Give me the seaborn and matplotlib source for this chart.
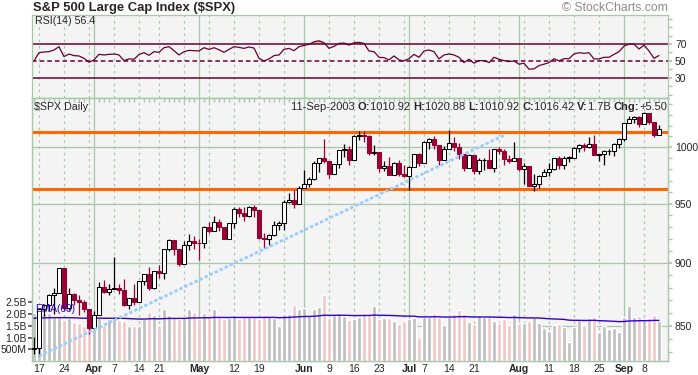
import numpy as np
import pandas as pd
import matplotlib
matplotlib.use("Agg")
import matplotlib.pyplot as plt
import seaborn as sns
from matplotlib.ticker import FixedLocator, FixedFormatter, NullFormatter
from matplotlib.transforms import blended_transform_factory

# trading days shown (Mar 14 is only half visible at the left edge)
holidays = ["2003-04-18", "2003-05-26", "2003-07-04", "2003-09-01"]
dates = pd.bdate_range("2003-03-14", "2003-09-11")
dates = dates[~dates.isin(pd.to_datetime(holidays))]

opens = [831.90,
         833.27, 862.79, 866.45, 874.02, 875.67, 895.79, 864.23, 874.74, 869.95, 868.52, 863.50,
         848.18, 858.48, 880.90, 876.45, 878.85, 879.93, 878.29, 865.99, 871.58, 868.30, 885.23,
         890.81, 879.91, 893.58, 892.01, 911.37, 919.02, 911.43, 898.81, 914.84, 917.84,
         916.92, 916.30, 930.08, 926.55, 934.39, 929.62, 920.27, 933.41, 945.11, 942.30, 939.28,
         946.67, 944.30, 920.77, 919.73, 923.42, 931.87, 933.22, 951.48, 953.22, 949.64,
         963.59, 967.00, 971.56, 986.24, 990.14, 987.76, 975.93, 984.84, 997.48, 998.51, 988.61,
         1010.74, 1011.66, 1010.09, 994.70, 995.69, 981.64, 983.45, 975.32, 985.82, 976.22,
         974.50, 982.32, 993.75, 985.70, 1004.42, 1007.84, 1002.21, 988.70, 998.14, 1003.86,
         1000.42, 994.09, 981.73, 993.32, 978.80, 988.11, 988.61, 981.60, 998.68, 996.52, 989.28, 987.49,
         990.31, 980.15, 982.82, 965.46, 967.08, 974.12, 977.59, 980.59, 990.35, 984.03, 990.51,
         990.67, 999.74, 1002.35, 1000.30, 1003.27, 993.06, 993.71, 996.73, 996.79, 1002.84,
         1008.01, 1021.99, 1026.27, 1027.97, 1021.39, 1031.64, 1023.17, 1010.92]
highs = [841.39,
         862.79, 866.94, 874.99, 879.60, 895.90, 895.79, 879.87, 875.80, 874.15, 869.88, 863.50,
         861.28, 884.57, 885.89, 882.73, 904.89, 883.11, 887.35, 871.78, 883.34, 885.26, 891.27,
         896.77, 893.83, 898.01, 911.74, 919.74, 919.02, 911.43, 918.15, 924.24, 922.01,
         919.68, 930.56, 933.88, 939.61, 937.22, 929.62, 933.77, 946.84, 947.51, 947.29, 948.23,
         948.65, 944.30, 925.34, 923.85, 935.30, 935.20, 952.76, 959.39, 962.08, 965.38,
         979.11, 973.02, 987.85, 990.14, 1007.69, 987.76, 984.84, 997.48, 1002.74, 1000.92,
         1010.86, 1015.33, 1015.12, 1011.22, 1002.09, 995.69, 987.84, 991.64, 986.53, 988.88,
         983.61, 983.26, 993.78, 995.00, 1005.56, 1008.92, 1010.43, 1002.21, 1000.86, 1015.41,
         1009.61, 1003.47, 994.09, 994.25, 993.32, 990.29, 989.86, 998.89, 998.71, 1000.68, 998.64, 992.62,
         1004.59, 990.31, 985.75, 982.82, 975.74, 974.89, 980.57, 985.46, 990.41, 992.50, 991.91,
         992.39, 1000.35, 1003.30, 1003.54, 1009.53, 1011.01, 993.71, 997.93, 998.05, 1004.12,
         1008.85, 1022.59, 1029.34, 1029.17, 1029.21, 1032.41, 1031.64, 1023.17, 1020.88]
lows = [828.34,
        827.17, 857.36, 861.21, 859.01, 875.67, 862.02, 862.59, 866.47, 858.09, 860.83, 843.68,
        847.85, 858.48, 876.12, 874.23, 878.85, 874.68, 865.72, 862.76, 865.92, 868.30, 881.85,
        877.93, 879.20, 888.17, 886.70, 909.89, 906.69, 897.52, 898.81, 911.10, 911.70,
        902.83, 912.35, 924.55, 926.38, 926.41, 919.72, 920.27, 929.30, 938.91, 935.24, 938.79,
        938.60, 920.23, 912.05, 914.91, 922.54, 927.42, 927.33, 950.12, 946.23, 949.64,
        963.59, 964.47, 970.72, 978.13, 986.01, 972.59, 975.93, 981.61, 991.27, 984.27,
        988.61, 1007.04, 1004.61, 993.08, 993.36, 977.40, 979.08, 974.86, 975.32, 974.29,
        973.60, 962.10, 982.32, 983.34, 985.70, 998.73, 998.17, 983.63, 988.70, 998.14,
        996.67, 989.30, 978.60, 981.71, 975.63, 976.08, 979.79, 981.07, 977.49, 993.59, 984.15, 985.96,
        987.49, 978.86, 966.79, 964.97, 960.84, 963.82, 973.83, 974.21, 979.90, 980.85, 980.36,
        987.10, 990.67, 995.30, 996.62, 999.33, 992.62, 987.91, 983.57, 993.33, 991.75,
        999.52, 1005.73, 1021.99, 1022.19, 1018.19, 1021.39, 1021.14, 1009.74, 1010.92]
closes = [833.27,
          862.79, 866.45, 874.02, 875.67, 895.79, 864.23, 874.74, 869.95, 868.52, 863.50, 848.18,
          858.48, 880.90, 876.45, 878.85, 879.93, 878.29, 865.99, 871.58, 868.30, 885.23, 890.81,
          879.91, 893.58, 892.01, 911.37, 919.02, 911.43, 898.81, 914.84, 917.84, 916.92,
          916.30, 930.08, 926.55, 934.39, 929.62, 920.27, 933.41, 945.11, 942.30, 939.28, 946.67,
          944.30, 920.77, 919.73, 923.42, 931.87, 933.22, 951.48, 953.22, 949.64, 963.59,
          967.00, 971.56, 986.24, 990.14, 987.76, 975.93, 984.84, 997.48, 998.51, 988.61,
          1010.74, 1011.66, 1010.09, 994.70, 995.69, 981.64, 983.45, 975.32, 985.82, 976.22,
          974.50, 982.32, 993.75, 985.70, 1004.42, 1007.84, 1002.21, 988.70, 998.14, 1003.86,
          1000.42, 994.09, 981.73, 993.32, 978.80, 988.11, 988.61, 981.60, 998.68, 996.52, 989.28, 987.49,
          990.31, 980.15, 982.82, 965.46, 967.08, 974.12, 977.59, 980.59, 990.35, 984.03, 990.51,
          990.67, 999.74, 1002.35, 1000.30, 1003.27, 993.06, 993.71, 996.73, 996.79, 1002.84,
          1008.01, 1021.99, 1026.27, 1027.97, 1021.39, 1031.64, 1023.17, 1010.92, 1016.42]
# volume in billions of shares
volume_b = [2.05,
            2.05, 2.05, 2.05, 1.92, 1.90, 1.76, 1.82, 1.67, 1.62, 1.50, 1.90,
            1.96, 1.86, 1.54, 1.79, 1.93, 1.74, 1.71, 1.50, 1.50, 1.50, 1.79,
            2.10, 1.96, 1.55, 2.20, 1.96, 1.86, 1.79, 1.86, 2.20, 2.10,
            1.79, 2.05, 1.90, 2.20, 1.86, 1.79, 1.82, 1.96, 1.79, 1.86, 1.86,
            1.86, 1.79, 1.96, 1.90, 1.82, 1.50, 2.00, 2.00, 2.40, 2.20,
            2.25, 1.96, 2.20, 2.30, 2.80, 1.82, 1.94, 2.05, 1.90, 1.76,
            1.79, 1.89, 2.05, 2.00, 2.35, 1.79, 1.82, 1.82, 1.71, 1.58,
            1.71, 1.79, 1.82, 1.04, 1.86, 1.86, 2.05, 1.86, 1.54, 1.86,
            2.00, 2.18, 2.00, 1.66, 1.58, 1.96, 1.86, 1.90, 1.71, 1.62, 1.79, 1.54,
            2.00, 1.62, 1.62, 1.71, 1.86, 1.62, 1.41, 1.28, 1.54, 1.58, 1.45,
            0.82, 1.45, 1.75, 1.54, 1.82, 1.88, 1.25, 1.51, 1.38, 1.41,
            1.24, 1.86, 2.34, 1.88, 1.90, 1.76, 1.82, 1.96, 1.71]
rsi = [50.0,
       59.8, 60.6, 61.0, 63.0, 66.9, 55.1, 58.2, 56.3, 55.9, 53.1, 48.4,
       51.2, 57.8, 57.1, 57.8, 58.2, 57.1, 50.4, 52.4, 52.0, 57.5, 59.8,
       56.7, 61.0, 60.2, 65.7, 66.9, 62.2, 57.1, 61.0, 62.5, 62.2,
       61.8, 65.7, 63.7, 65.7, 63.3, 60.2, 63.7, 66.9, 66.1, 64.9, 66.5,
       65.3, 53.1, 50.0, 52.4, 56.3, 57.1, 63.7, 64.9, 62.2, 66.9,
       68.4, 69.6, 72.7, 73.9, 71.6, 64.9, 67.3, 70.8, 71.2, 68.8,
       71.6, 72.0, 70.8, 61.8, 61.0, 54.3, 53.9, 51.2, 55.9, 51.2,
       50.0, 52.7, 57.8, 54.3, 61.8, 63.0, 61.0, 52.4, 57.1, 58.2,
       57.1, 54.3, 48.0, 52.0, 47.3, 50.4, 50.4, 48.0, 54.3, 52.0, 50.4, 49.2,
       50.0, 46.1, 47.3, 40.2, 40.6, 44.5, 46.1, 48.0, 52.7, 50.0, 52.7,
       52.7, 58.2, 59.8, 59.0, 59.8, 52.4, 52.4, 54.3, 54.3, 57.8,
       61.0, 67.6, 70.0, 70.0, 64.1, 68.8, 61.8, 53.1, 56.4]
ema_start = 1.82  # EMA(60) level at the left edge

support_resistance = [963, 1014]
trend_dates = ["2003-03-17", "2003-07-29"]
trend_prices = [827, 1011]

rsi_levels = [30, 50, 70]
price_ticks = [850, 900, 950, 1000]
vol_ticks = [0.5, 1.0, 1.5, 2.0, 2.5]
vol_tick_labels = ["500M", "1.0B", "1.5B", "2.0B", "2.5B"]
tick_dates = ["2003-03-17", "2003-03-24", "2003-04-01", "2003-04-07", "2003-04-14", "2003-04-21",
              "2003-05-01", "2003-05-12", "2003-05-19", "2003-06-02", "2003-06-09", "2003-06-16",
              "2003-06-23", "2003-07-01", "2003-07-07", "2003-07-14", "2003-07-21", "2003-08-01",
              "2003-08-11", "2003-08-18", "2003-08-25", "2003-09-02", "2003-09-08"]
tick_labels = ["17", "24", "Apr", "7", "14", "21", "May", "12", "19", "Jun", "9", "16", "23",
               "Jul", "7", "14", "21", "Aug", "11", "18", "25", "Sep", "8"]

BG = "#f4f4f4"
GRID = "#a9c7a9"
DOWN = "#990033"
VOL_UP = "#bebebe"
VOL_DOWN = "#f0c6c6"
EMA_C = "#3300cc"
RSI_C = "#660033"
TAN = "#cdbb8b"
ORANGE = "#ff6600"
TREND = "#99ccff"

sns.set_theme(style="white")
plt.rcParams["font.family"] = ["Liberation Sans", "DejaVu Sans"]

W, H = 698, 375
fig = plt.figure(figsize=(W / 100, H / 100), dpi=100)
fig.patch.set_facecolor("white")


def fx(p):
    return p / W


def fy(p):
    return 1 - p / H


L, R = 32, 668
rsi_top, rsi_bot = 15, 98
px_top, px_bot = 98, 361

ax_rsi = fig.add_axes([fx(L), fy(rsi_bot), (R - L) / W, (rsi_bot - rsi_top) / H])
ax_vol = fig.add_axes([fx(L), fy(px_bot), (R - L) / W, (px_bot - px_top) / H], sharex=ax_rsi)
ax_px = ax_vol.twinx()
ax_px.set_zorder(ax_vol.get_zorder() + 1)
ax_px.patch.set_visible(False)

x = np.arange(len(dates))
o, h, l, c = (np.array(a) for a in (opens, highs, lows, closes))
up = c >= o
pos = {d: i for i, d in enumerate(dates.strftime("%Y-%m-%d"))}

# grid: solid at month starts, dashed at first trading day of each week
s = pd.Series(x, index=dates)
month_starts = s.groupby([dates.year, dates.month]).min().values[1:]
week_starts = s.groupby(dates.isocalendar().week.values).min().values[1:]
week_starts = [w for w in week_starts if w not in set(month_starts)]

for ax in (ax_rsi, ax_vol):
    ax.set_facecolor(BG)
    for m in month_starts:
        ax.axvline(m, color=GRID, lw=0.9, zorder=0.5)
    for w in week_starts:
        ax.axvline(w, color=GRID, lw=0.9, ls=(0, (2, 3)), zorder=0.5)
for ax in (ax_rsi, ax_vol, ax_px):
    for sp in ax.spines.values():
        sp.set_color(GRID)
        sp.set_linewidth(0.9)

# ---- RSI panel
ax_rsi.fill_between(x, 70, rsi, where=np.array(rsi) > 70, interpolate=True, color=TAN, lw=0, zorder=1)
for lev in rsi_levels:
    ax_rsi.axhline(lev, color=RSI_C, lw=1.1, ls="-" if lev != 50 else (0, (3, 2)), zorder=1.5)
sns.lineplot(x=x, y=rsi, ax=ax_rsi, color=RSI_C, lw=0.9, zorder=2)
ax_rsi.set_ylim(6, 104.5)
ax_rsi.yaxis.tick_right()
ax_rsi.yaxis.set_major_locator(FixedLocator(rsi_levels))
ax_rsi.yaxis.set_minor_locator(FixedLocator([10, 20, 40, 60, 80, 90, 100]))
ax_rsi.tick_params(axis="y", which="both", direction="out", length=3, color=GRID,
                   labelsize=7.5, pad=2, left=False, right=True)
ax_rsi.tick_params(axis="x", which="both", bottom=False, top=False, labelbottom=False)
ax_rsi.set_xlabel("")
ax_rsi.set_ylabel("")

# ---- volume (behind the price)
trans = blended_transform_factory(ax_vol.transAxes, ax_px.transData)
for p in price_ticks:
    ax_vol.plot([0, 1], [p, p], transform=trans, color=GRID, lw=0.9, zorder=0.5)
vol_df = pd.DataFrame({"x": x, "vol": volume_b, "dir": np.where(up, "up", "down")})
sns.barplot(data=vol_df, x="x", y="vol", hue="dir", palette={"up": VOL_UP, "down": VOL_DOWN},
            native_scale=True, dodge=False, width=0.8, saturation=1, legend=False,
            errorbar=None, ax=ax_vol, zorder=2)
ema = [ema_start]
for v in volume_b[1:]:
    ema.append(ema[-1] + 2 / 61 * (v - ema[-1]))
sns.lineplot(x=x, y=ema, ax=ax_vol, color=EMA_C, lw=1.0, zorder=3)
ax_vol.set_ylim(0, (px_bot - px_top) / 23.5)
ax_vol.yaxis.set_major_locator(FixedLocator(vol_ticks))
ax_vol.yaxis.set_major_formatter(FixedFormatter(vol_tick_labels))
ax_vol.tick_params(axis="y", which="major", direction="out", length=3, color="#555555",
                   labelsize=7.5, pad=1, left=True, right=False)
ax_vol.set_xlabel("")
ax_vol.set_ylabel("")

# ---- price candles
for lev in support_resistance:
    ax_px.axhline(lev, color=ORANGE, lw=2.2, zorder=2)
ax_px.vlines(x, l, h, colors=np.where(up, "black", DOWN), lw=0.9, zorder=3)
ax_px.bar(x, np.maximum(np.abs(c - o), 0.35), bottom=np.minimum(o, c), width=0.62,
          color=np.where(up, "white", DOWN), edgecolor=np.where(up, "black", DOWN),
          lw=0.75, zorder=4)
ax_px.plot([pos[d] for d in trend_dates], trend_prices, color=TREND, lw=2.0,
           ls=(0, (1.2, 0.8)), zorder=5)
ax_px.set_yscale("log")
ax_px.set_ylim(823.2, 1045.9)
ax_px.yaxis.set_major_locator(FixedLocator(price_ticks))
ax_px.yaxis.set_major_formatter(FixedFormatter([str(p) for p in price_ticks]))
ax_px.yaxis.set_minor_locator(FixedLocator([p for p in range(830, 1050, 10) if p not in price_ticks]))
ax_px.yaxis.set_minor_formatter(NullFormatter())
ax_px.tick_params(axis="y", which="both", direction="out", length=3, color=GRID,
                  labelsize=7.5, pad=2)
ax_px.set_ylabel("")

# ---- x axis
ax_vol.set_xlim(-0.4, 126.8)
ax_vol.xaxis.set_major_locator(FixedLocator([pos[d] for d in tick_dates]))
ax_vol.xaxis.set_major_formatter(FixedFormatter(tick_labels))
ax_vol.xaxis.set_minor_locator(FixedLocator(x))
ax_vol.tick_params(axis="x", which="major", length=0, labelsize=7.5, pad=2, top=False, bottom=True)
ax_vol.tick_params(axis="x", which="minor", direction="in", length=3, color=GRID,
                   top=True, bottom=False)
for t in ax_vol.get_xticklabels():
    if t.get_text().isalpha():
        t.set_fontweight("bold")

# ---- texts
fig.text(fx(33), fy(8), "S&P 500 Large Cap Index ($SPX)", fontsize=9.4, fontweight="bold",
         va="center", ha="left", parse_math=False)
fig.text(fx(668), fy(8), "\u00a9 StockCharts.com", fontsize=8.8, color="#8c8c8c",
         va="center", ha="right")
fig.text(fx(35), fy(20.5), f"RSI(14) {rsi[-1]}", fontsize=7.7, va="center")
fig.text(fx(34), fy(107), "$SPX Daily", fontsize=7.7, va="center", parse_math=False)
fig.text(fx(35), fy(309.5), "EMA(60)", fontsize=7.3, color=EMA_C, va="center")

chg = closes[-1] - closes[-2]
parts = [(f"{dates[-1]:%d-%b-%Y} ", "normal"), ("O:", "bold"), (f"{opens[-1]:.2f} ", "normal"),
         ("H:", "bold"), (f"{highs[-1]:.2f} ", "normal"), ("L:", "bold"), (f"{lows[-1]:.2f} ", "normal"),
         ("C:", "bold"), (f"{closes[-1]:.2f} ", "normal"), ("V:", "bold"), (f"{volume_b[-1]:.1f}B ", "normal"),
         ("Chg:", "bold"), (f"{chg:+.2f}", "normal")]
rend = fig.canvas.get_renderer()
objs = [fig.text(0, fy(107), t, fontsize=8, fontweight=wt, va="center", ha="left") for t, wt in parts]
widths = [ob.get_window_extent(rend).width for ob in objs]
xc = 667 - sum(widths)
for ob, wd in zip(objs, widths):
    ob.set_x(fx(xc))
    xc += wd

fig.savefig("out.png", dpi=100, facecolor="white")
